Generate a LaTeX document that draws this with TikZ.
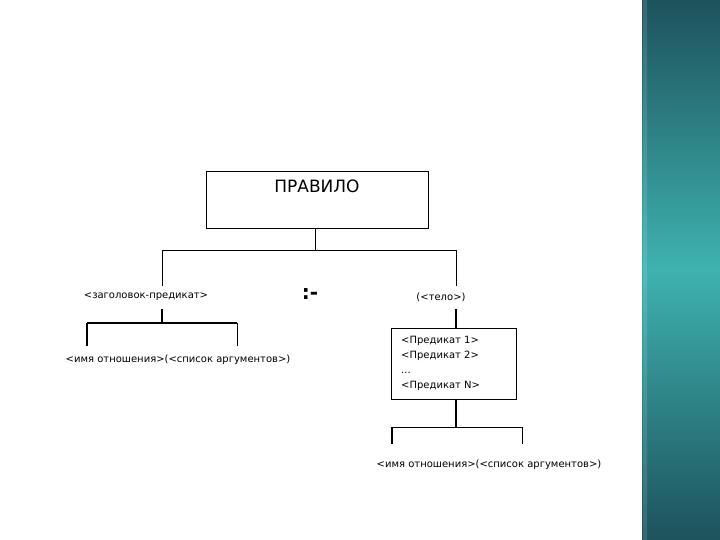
\documentclass[tikz,border=0pt]{standalone}
\usepackage{fontspec}
\setmainfont{DejaVu Sans}
\begin{document}
\begin{tikzpicture}[x=1pt,y=-1pt,
  thinl/.style={line width=0.9pt},
  thickl/.style={line width=1.7pt},
  lbl/.style={font=\fontsize{10}{11}\selectfont, inner sep=0pt}]
\useasboundingbox (0,0) rectangle (720,540);
\fill[white] (0,0) rectangle (720,540);
% right decorative strip
\definecolor{tealdark}{HTML}{1D525C}
\definecolor{teallight}{HTML}{3EB2AF}
\shade[top color=tealdark, bottom color=tealdark, middle color=teallight] (642,0) rectangle (720,540);
\shade[top color=tealdark!80!white, bottom color=tealdark!80!white, middle color=teallight!80!white, opacity=0.6] (643,0) rectangle (647,540);

% top box
\node[draw, line width=1pt, minimum width=222pt, minimum height=57pt, anchor=north west, inner sep=0pt] (rule) at (206,171) {};
\node[font=\fontsize{17}{20}\selectfont, inner sep=0pt] (ruletxt) at (317,186) {ПРАВИЛО};

\coordinate (j1) at (315,250);
\coordinate (jl) at (162,250);
\coordinate (jr) at (456,250);
\draw[thinl] (j1 |- rule.south) -- (j1);
\draw[thinl] (jl) -- (jr);

% left branch
\node[lbl] (head) at (146,297) {<заголовок-предикат>};
\coordinate (hlt) at (162,286);
\coordinate (hlb) at (162,309);
\coordinate (hl) at (162,323);
\coordinate (ll) at (87,323);
\coordinate (lr) at (237,323);
\coordinate (lle) at (87,346);
\coordinate (lre) at (237,346);
\draw[thinl] (jl) -- (hlt);
\draw[thickl] (hlb) -- (hl);
\draw[thickl] (ll) -- (lr);
\draw[thickl] (ll) -- (lle);
\draw[thinl] (lr) -- (lre);
\node[lbl] (leftargs) at (178,360) {<имя отношения>(<список аргументов>)};

% neck
\node[font=\fontsize{20}{22}\selectfont\bfseries, inner sep=0pt] (neck) at (310,294) {:-};

% right branch
\node[lbl] (body) at (441,297) {(<тело>)};
\coordinate (brt) at (456,286);
\coordinate (brb) at (456,309);
\draw[thinl] (jr) -- (brt);
\node[draw, line width=1pt, minimum width=125pt, minimum height=71pt, anchor=north west, inner sep=0pt] (preds) at (391,328) {};
\node[lbl, anchor=north west, align=left, font=\fontsize{10}{15}\selectfont] (predtxt) at (401,336) {<Предикат 1>\\<Предикат 2>\\...\\<Предикат N>};
\draw[thickl] (brb) -- (brb |- preds.north);
\coordinate (pb) at (456,399);
\coordinate (rj) at (456,427);
\coordinate (rl) at (392,427);
\coordinate (rr) at (522,427);
\coordinate (rle) at (392,444);
\coordinate (rre) at (522,444);
\draw[thickl] (pb) -- (rj);
\draw[thinl] (rl) -- (rr);
\draw[thickl] (rl) -- (rle);
\draw[thinl] (rr) -- (rre);
\node[lbl] (rightargs) at (489,465) {<имя отношения>(<список аргументов>)};
\end{tikzpicture}
\end{document}
